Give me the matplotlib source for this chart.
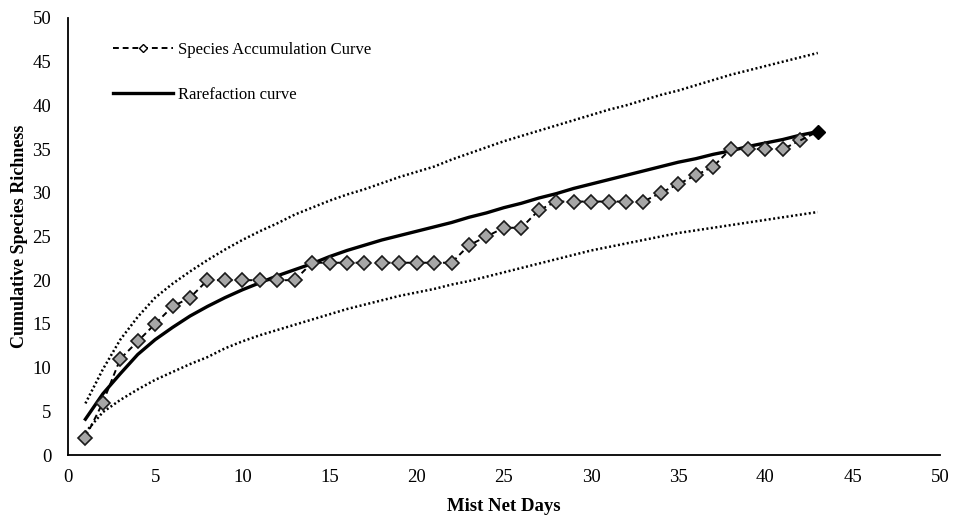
import numpy as np
import matplotlib
matplotlib.use('Agg')
import matplotlib.pyplot as plt
from matplotlib.lines import Line2D

plt.rcParams['font.family'] = ['Liberation Serif', 'DejaVu Serif']

days = np.arange(1, 44)

# observed cumulative species per mist net day
accum = [2, 6, 11, 13, 15, 17, 18, 20, 20, 20, 20, 20, 20, 22, 22, 22, 22, 22,
         22, 22, 22, 22, 24, 25, 26, 26, 28, 29, 29, 29, 29, 29, 29, 30, 31, 32,
         33, 35, 35, 35, 35, 36, 37]

# rarefaction estimate and its bounds
rare = [4.1, 7.0, 9.3, 11.5, 13.2, 14.6, 15.9, 17.0, 18.0, 18.9, 19.7, 20.5,
        21.2, 21.9, 22.7, 23.4, 24.0, 24.6, 25.1, 25.6, 26.1, 26.6, 27.2, 27.7,
        28.3, 28.8, 29.4, 29.9, 30.5, 31.0, 31.5, 32.0, 32.5, 33.0, 33.5, 33.9,
        34.4, 34.8, 35.3, 35.7, 36.1, 36.6, 37.0]
upper = [5.9, 9.8, 13.2, 15.8, 18.0, 19.6, 21.0, 22.3, 23.5, 24.6, 25.6, 26.5,
         27.5, 28.3, 29.1, 29.8, 30.4, 31.1, 31.8, 32.4, 33.0, 33.8, 34.5, 35.2,
         35.9, 36.5, 37.1, 37.7, 38.3, 38.9, 39.5, 40.0, 40.6, 41.2, 41.7, 42.3,
         42.9, 43.5, 44.0, 44.5, 45.0, 45.5, 46.0]
lower = [2.6, 4.9, 6.3, 7.5, 8.6, 9.5, 10.4, 11.2, 12.2, 13.0, 13.7, 14.3,
         14.9, 15.5, 16.1, 16.7, 17.2, 17.7, 18.2, 18.6, 19.0, 19.5, 19.9, 20.4,
         20.9, 21.4, 21.9, 22.4, 22.9, 23.4, 23.8, 24.2, 24.6, 25.0, 25.4, 25.7,
         26.0, 26.3, 26.6, 26.9, 27.2, 27.5, 27.8]

fig = plt.figure(figsize=(9.56, 5.2), dpi=100)
ax = fig.add_axes([0.0711, 0.125, 0.912, 0.8404])

ax.plot(days, upper, color='black', linestyle=(0, (0.8, 1.0)), linewidth=1.8)
ax.plot(days, lower, color='black', linestyle=(0, (0.8, 1.0)), linewidth=1.8)
ax.plot(days, rare, color='black', linewidth=2.4, zorder=3)
ax.plot(days[:-1], accum[:-1], color='black', linestyle=(0, (3, 2)), linewidth=1.4,
        marker='D', markersize=7.5, markerfacecolor='#a6a6a6',
        markeredgecolor='#1a1a1a', markeredgewidth=1.2, zorder=4)
ax.plot(days[-2:], accum[-2:], color='black', linestyle=(0, (3, 2)), linewidth=1.4,
        zorder=4)
ax.plot(days[-1:], accum[-1:], linestyle='none', marker='D', markersize=7.5,
        markerfacecolor='black', markeredgecolor='black', zorder=5)

ax.set_xlim(0, 50)
ax.set_ylim(0, 50)
ax.set_xticks(np.arange(0, 51, 5))
ax.set_yticks(np.arange(0, 51, 5))
ax.tick_params(axis='x', length=0, labelsize=13.5, pad=10)
ax.tick_params(axis='y', length=0, labelsize=13.5, pad=12)
for side in ['top', 'right']:
    ax.spines[side].set_visible(False)
for side in ['left', 'bottom']:
    ax.spines[side].set_linewidth(1.3)

ax.set_xlabel('Mist Net Days', fontsize=13.5, fontweight='bold', labelpad=9)
ax.set_ylabel('Cumulative Species Richness', fontsize=13, fontweight='bold',
              labelpad=3)

handles = [
    Line2D([], [], color='black', linestyle=(0, (3, 2)), linewidth=1.4,
           marker='D', markersize=4, markerfacecolor='white',
           markeredgecolor='black'),
    Line2D([], [], color='black', linewidth=2.4),
]
ax.legend(handles, ['Species Accumulation Curve', 'Rarefaction curve'],
          loc='upper left', bbox_to_anchor=(0.052, 0.946), frameon=False,
          borderaxespad=0, borderpad=0,
          fontsize=12, handlelength=3.6, handletextpad=0.3,
          labelspacing=1.75)

fig.savefig('out.png', dpi=100)
